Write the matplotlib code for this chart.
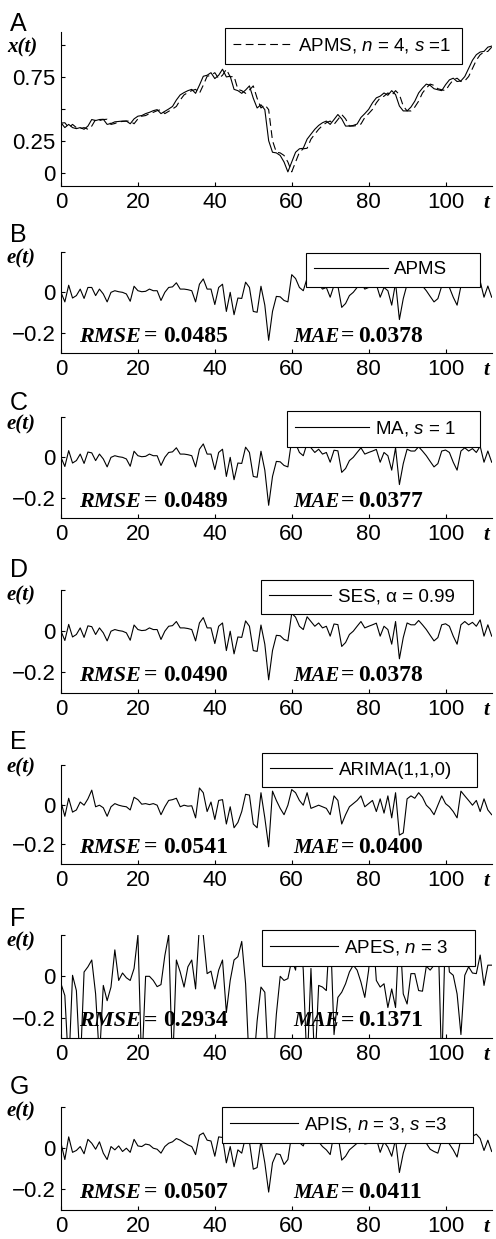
import numpy as np
import matplotlib.pyplot as plt

plt.rcParams['font.family'] = ['Liberation Sans', 'DejaVu Sans']
plt.rcParams['mathtext.fontset'] = 'custom'
plt.rcParams['mathtext.it'] = 'Liberation Sans:italic'
plt.rcParams['mathtext.rm'] = 'Liberation Sans'

# time axis
t = np.arange(113)

# panel A: observed series and APMS forecast
x_actual = [0.393, 0.355, 0.38, 0.355, 0.347, 0.355, 0.342, 0.367, 0.418, 0.41,
            0.418, 0.42, 0.38, 0.387, 0.40, 0.403, 0.406, 0.406, 0.385, 0.423,
            0.444, 0.449, 0.464, 0.474, 0.487, 0.495, 0.464, 0.482, 0.50, 0.52,
            0.57, 0.61, 0.628, 0.643, 0.653, 0.622, 0.686, 0.755, 0.763, 0.783,
            0.737, 0.763, 0.81, 0.75, 0.755, 0.653, 0.643, 0.622, 0.648, 0.68,
            0.584, 0.508, 0.533, 0.495, 0.253, 0.163, 0.158, 0.138, 0.087, 0.01,
            0.087, 0.163, 0.19, 0.194, 0.265, 0.304, 0.342, 0.372, 0.393, 0.406,
            0.38, 0.418, 0.457, 0.423, 0.367, 0.367, 0.372, 0.383, 0.434, 0.464,
            0.497, 0.548, 0.587, 0.60, 0.625, 0.607, 0.643, 0.612, 0.523, 0.485,
            0.485, 0.515, 0.561, 0.625, 0.663, 0.694, 0.684, 0.658, 0.65, 0.643,
            0.689, 0.727, 0.74, 0.714, 0.719, 0.753, 0.816, 0.88, 0.923, 0.944,
            0.949, 0.982, 0.99]
x_apms = [0.39, 0.393, 0.355, 0.38, 0.355, 0.347, 0.355, 0.342, 0.367, 0.418,
          0.41, 0.418, 0.42, 0.38, 0.387, 0.40, 0.403, 0.406, 0.406, 0.385,
          0.423, 0.444, 0.449, 0.464, 0.474, 0.487, 0.495, 0.464, 0.482, 0.50,
          0.52, 0.57, 0.61, 0.628, 0.643, 0.653, 0.622, 0.686, 0.755, 0.763,
          0.783, 0.737, 0.763, 0.81, 0.75, 0.755, 0.653, 0.643, 0.622, 0.648,
          0.68, 0.584, 0.508, 0.533, 0.495, 0.253, 0.163, 0.158, 0.138, 0.087,
          0.01, 0.087, 0.163, 0.19, 0.194, 0.265, 0.304, 0.342, 0.372, 0.393,
          0.406, 0.38, 0.418, 0.457, 0.423, 0.367, 0.367, 0.372, 0.383, 0.434,
          0.464, 0.497, 0.548, 0.587, 0.60, 0.625, 0.607, 0.643, 0.612, 0.523,
          0.485, 0.485, 0.515, 0.561, 0.625, 0.663, 0.694, 0.684, 0.658, 0.65,
          0.643, 0.689, 0.727, 0.74, 0.714, 0.719, 0.753, 0.816, 0.88, 0.923,
          0.944, 0.949, 0.982]

# panels B-G: forecast errors
e_apms = [0.0, -0.047, 0.035, -0.028, -0.016, 0.016, -0.03, 0.024, 0.024, -0.016,
          0.016, -0.008, -0.047, 0.0, 0.008, 0.003, 0.0, -0.008, -0.044, 0.03,
          0.008, 0.003, 0.005, 0.016, 0.008, 0.008, -0.04, 0.0, 0.024, 0.027,
          0.047, 0.016, 0.016, 0.013, 0.008, -0.047, 0.04, 0.066, 0.016, 0.016,
          -0.06, 0.024, 0.04, -0.094, 0.0, -0.11, -0.028, -0.03, 0.05, 0.024,
          -0.094, -0.098, 0.03, -0.063, -0.236, -0.094, -0.02, -0.022, -0.04, -0.047,
          0.087, 0.068, 0.024, 0.008, 0.07, 0.047, 0.024, 0.04, 0.016, 0.024,
          -0.024, 0.035, 0.032, -0.074, -0.055, -0.016, 0.0, 0.024, 0.047, 0.016,
          0.024, 0.031, 0.039, -0.024, 0.024, 0.008, -0.063, 0.047, -0.134, -0.031,
          0.04, 0.031, 0.031, 0.052, 0.031, 0.008, -0.02, -0.047, -0.031, 0.031,
          0.036, 0.024, -0.024, -0.063, 0.031, 0.047, 0.031, 0.043, 0.024, 0.055,
          -0.024, 0.031, -0.024]
e_ma = [0.0, -0.045, 0.033, -0.028, -0.016, 0.016, -0.03, 0.026, 0.022, -0.016,
        0.016, -0.008, -0.047, 0.0, 0.008, 0.003, 0.0, -0.008, -0.044, 0.03,
        0.008, 0.003, 0.005, 0.016, 0.008, 0.008, -0.04, 0.0, 0.024, 0.027,
        0.047, 0.016, 0.016, 0.013, 0.008, -0.047, 0.04, 0.066, 0.016, 0.016,
        -0.06, 0.024, 0.04, -0.094, 0.0, -0.11, -0.028, -0.03, 0.05, 0.024,
        -0.094, -0.098, 0.03, -0.063, -0.236, -0.094, -0.02, -0.022, -0.04, -0.047,
        0.087, 0.068, 0.024, 0.008, 0.07, 0.047, 0.024, 0.04, 0.016, 0.024,
        -0.024, 0.035, 0.032, -0.074, -0.055, -0.016, 0.0, 0.024, 0.047, 0.016,
        0.024, 0.031, 0.039, -0.024, 0.024, 0.008, -0.063, 0.047, -0.134, -0.031,
        0.04, 0.031, 0.031, 0.052, 0.031, 0.008, -0.02, -0.047, -0.031, 0.031,
        0.036, 0.024, -0.024, -0.063, 0.031, 0.047, 0.031, 0.043, 0.024, 0.055,
        -0.024, 0.031, -0.024]
e_ses = [0.0, -0.045, 0.033, -0.028, -0.016, 0.016, -0.03, 0.026, 0.022, -0.016,
         0.016, -0.008, -0.047, 0.0, 0.008, 0.003, 0.0, -0.008, -0.044, 0.03,
         0.008, 0.003, 0.005, 0.016, 0.008, 0.008, -0.04, 0.0, 0.024, 0.027,
         0.047, 0.016, 0.016, 0.013, 0.008, -0.047, 0.04, 0.066, 0.016, 0.016,
         -0.06, 0.024, 0.04, -0.094, 0.0, -0.11, -0.028, -0.03, 0.05, 0.024,
         -0.094, -0.098, 0.03, -0.063, -0.236, -0.094, -0.02, -0.022, -0.04, -0.047,
         0.087, 0.068, 0.024, 0.008, 0.07, 0.047, 0.024, 0.04, 0.016, 0.024,
         -0.024, 0.035, 0.032, -0.074, -0.055, -0.016, 0.0, 0.024, 0.047, 0.016,
         0.024, 0.031, 0.039, -0.024, 0.024, 0.008, -0.063, 0.047, -0.134, -0.031,
         0.04, 0.031, 0.031, 0.052, 0.031, 0.008, -0.02, -0.047, -0.031, 0.031,
         0.036, 0.024, -0.024, -0.063, 0.031, 0.047, 0.031, 0.043, 0.024, 0.055,
         -0.024, 0.031, -0.024]
e_arima = [0.013, -0.059, 0.032, -0.038, -0.027, 0.013, -0.003, 0.029, 0.073, -0.011,
           -0.003, -0.016, -0.059, -0.011, 0.005, -0.003, -0.008, -0.011, -0.027, 0.037,
           0.025, 0.002, 0.005, 0.0, 0.005, -0.003, -0.051, -0.011, 0.021, 0.025,
           0.032, -0.011, -0.003, -0.008, -0.006, -0.067, 0.084, 0.06, -0.035, 0.013,
           -0.075, 0.021, 0.025, -0.098, -0.011, -0.117, -0.09, -0.035, 0.052, 0.048,
           -0.098, -0.117, 0.06, -0.067, -0.213, 0.068, 0.021, -0.019, -0.051, -0.003,
           0.076, 0.06, 0.021, -0.003, 0.06, -0.019, -0.011, -0.003, -0.011, -0.019,
           -0.051, 0.044, 0.021, -0.098, -0.051, -0.011, 0.005, 0.021, 0.044, -0.011,
           0.005, 0.021, -0.035, 0.029, -0.043, 0.044, -0.067, 0.06, -0.154, -0.143,
           0.029, 0.044, 0.032, 0.06, 0.037, -0.003, -0.022, -0.051, -0.003, 0.044,
           0.005, -0.011, -0.035, -0.067, 0.068, 0.044, 0.021, -0.003, 0.021, -0.035,
           0.029, -0.027, -0.051]
e_apes = [-0.036, -0.093, -0.45, 0.005, -0.069, -0.45, 0.021, 0.046, 0.079, -0.085,
          -0.4, -0.044, -0.118, -0.052, 0.128, -0.02, 0.016, -0.007, -0.02, 0.038,
          0.2, -0.45, 0.0, 0.0, -0.02, -0.05, -0.04, 0.1, 0.2, -0.45,
          0.079, 0.021, -0.052, 0.046, 0.079, -0.061, 0.25, 0.2, 0.013, 0.025,
          -0.061, 0.03, 0.079, -0.175, -0.02, 0.079, 0.095, 0.169, -0.036, -0.45,
          -0.45, -0.216, -0.052, -0.077, -0.45, -0.45, -0.184, 0.0, -0.02, -0.011,
          0.079, 0.03, 0.25, 0.03, -0.45, 0.038, -0.45, -0.044, -0.052, -0.069,
          0.25, -0.282, -0.102, -0.077, -0.036, 0.021, 0.054, 0.03, -0.028, -0.102,
          0.03, 0.25, -0.02, -0.052, -0.036, -0.151, -0.061, -0.151, 0.25, -0.085,
          -0.134, 0.013, 0.013, -0.069, -0.072, 0.049, 0.03, 0.054, 0.25, -0.45,
          0.25, 0.021, 0.005, -0.085, -0.282, 0.005, 0.046, 0.016, 0.013, 0.103,
          -0.044, 0.054, 0.054]
e_apis = [0.024, -0.055, 0.055, -0.02, -0.011, 0.008, -0.027, 0.043, 0.024, -0.005,
          0.031, -0.024, -0.055, 0.008, -0.008, 0.011, -0.016, 0.0, -0.02, 0.043,
          0.011, 0.008, 0.02, 0.016, 0.0, -0.005, -0.024, 0.008, 0.024, 0.031,
          0.047, 0.039, 0.027, 0.016, 0.008, -0.031, 0.063, 0.074, 0.039, 0.035,
          -0.039, 0.055, 0.052, -0.071, 0.008, -0.09, -0.008, -0.024, 0.055, 0.031,
          -0.102, -0.094, 0.036, -0.071, -0.213, -0.071, -0.027, -0.031, -0.079, -0.055,
          0.068, 0.036, 0.027, 0.011, 0.068, 0.031, 0.031, 0.031, 0.008, -0.008,
          -0.031, 0.074, 0.068, -0.058, -0.039, -0.008, 0.008, 0.024, 0.055, 0.02,
          0.024, 0.036, 0.047, -0.02, 0.031, 0.005, -0.039, 0.043, -0.118, -0.024,
          0.036, 0.031, 0.036, 0.063, 0.031, 0.024, -0.005, -0.016, -0.024, 0.039,
          0.043, 0.02, -0.008, -0.043, 0.047, 0.058, 0.043, 0.058, 0.068, 0.047,
          -0.011, 0.039, -0.016]

errors = [e_apms, e_ma, e_ses, e_arima, e_apes, e_apis]
letters = ['A', 'B', 'C', 'D', 'E', 'F', 'G']
legend_labels = [r'APMS, $n$ = 4, $s$ =1', 'APMS', r'MA, $s$ = 1', 'SES, α = 0.99',
                 'ARIMA(1,1,0)', r'APES, $n$ = 3', r'APIS, $n$ = 3, $s$ =3']
rmse = ['0.0485', '0.0489', '0.0490', '0.0541', '0.2934', '0.0507']
mae = ['0.0378', '0.0377', '0.0378', '0.0400', '0.1371', '0.0411']

for s in [x_actual, x_apms] + errors:
    assert len(s) == len(t), len(s)

W, H = 496, 1239
fig = plt.figure(figsize=(W / 100, H / 100), dpi=100)

# axes boxes in pixels: (top, bottom)
boxes = [(32, 186), (251.7, 353.3), (416.7, 518.3), (590, 693),
         (765, 864), (935, 1038.3), (1107, 1210)]
letter_y = [31, 242, 410, 577, 749, 926, 1094]
ylab_y = [52, 263, 429, 600, 772, 946, 1116]
# legend frames in pixels: (left, top, right, bottom) and handle length
legend_box = [(225, 28, 462, 62), (306, 252.7, 480, 286), (287, 411, 480, 444),
              (261, 580, 473, 617), (262, 753, 477, 787), (262, 930, 475, 963),
              (222, 1107, 473, 1134)]
handle_len = [3.1, 3.9, 3.9, 3.3, 3.3, 3.6, 3.6]
left, right = 61, 491.7

serif_bi = dict(family='Liberation Serif', weight='bold', style='italic')
serif_b = dict(family='Liberation Serif', weight='bold')


def tx(px):
    # pixel column -> data t
    return (px - left) / (right - left) * 112


for i, (top, bot) in enumerate(boxes):
    ax = fig.add_axes([left / W, 1 - bot / H, (right - left) / W, (bot - top) / H])
    for sp in ['top', 'right']:
        ax.spines[sp].set_visible(False)
    for sp in ['left', 'bottom']:
        ax.spines[sp].set_linewidth(0.8)
    ax.set_xlim(0, 112)
    ax.set_xticks([0, 20, 40, 60, 80, 100])
    ax.tick_params(direction='in', length=3, width=0.8, labelsize=16, pad=4)

    if i == 0:
        ax.plot(t, x_actual, color='black', lw=0.8, zorder=3)
        ln, = ax.plot(t, x_apms, color='black', lw=0.8, dashes=(7, 4), zorder=3)
        ax.set_ylim(-0.1, 1.1)
        ax.set_yticks([0, 0.25, 0.5, 0.75, 1.0])
        ax.set_yticklabels(['0', '0.25', '', '0.75', ''])
        ylab = 'x(t)'
    else:
        ln, = ax.plot(t, errors[i - 1], color='black', lw=0.8, zorder=3)
        ax.set_ylim(-0.3, 0.2)
        ax.set_yticks([-0.2, 0, 0.2])
        ax.set_yticklabels(['\u22120.2', '0', ''])
        ylab = 'e(t)'
        yb = 0.115
        trans = ax.get_xaxis_transform()
        ax.text(tx(79), yb, 'RMSE', transform=trans, fontsize=16, zorder=1, **serif_bi)
        ax.text(tx(144), yb, '=', transform=trans, fontsize=17, zorder=1, **serif_b)
        ax.text(tx(163), yb, rmse[i - 1], transform=trans, fontsize=17, zorder=1, **serif_b)
        ax.text(tx(293), yb, 'MAE', transform=trans, fontsize=15, zorder=1, **serif_bi)
        ax.text(tx(341), yb, '=', transform=trans, fontsize=17, zorder=1, **serif_b)
        ax.text(tx(358), yb, mae[i - 1], transform=trans, fontsize=17, zorder=1, **serif_b)

    lx0, ly0, lx1, ly1 = legend_box[i]
    leg = ax.legend([ln], [legend_labels[i]], loc='upper left', mode='expand',
                    bbox_to_anchor=(lx0 / W, 1 - ly1 / H, (lx1 - lx0) / W, (ly1 - ly0) / H),
                    bbox_transform=fig.transFigure, borderaxespad=0, fontsize=13.5,
                    handlelength=handle_len[i], handletextpad=0.35, borderpad=0.45,
                    fancybox=False, framealpha=1, edgecolor='black')
    leg.get_frame().set_linewidth(0.8)
    leg.set_zorder(5)

    # axis name "t" at the right end of the tick labels
    ax.annotate('t', xy=(1, 0), xycoords='axes fraction', xytext=(-2, -5),
                textcoords='offset points', ha='right', va='top',
                fontsize=15, **serif_bi)

    fig.text(10 / W, 1 - letter_y[i] / H, letters[i], fontsize=18,
             va='baseline', ha='left')
    fig.text(7 / W, 1 - ylab_y[i] / H, ylab, fontsize=15, va='baseline',
             ha='left', **serif_bi)

fig.savefig('out.png', dpi=100, facecolor='white')
